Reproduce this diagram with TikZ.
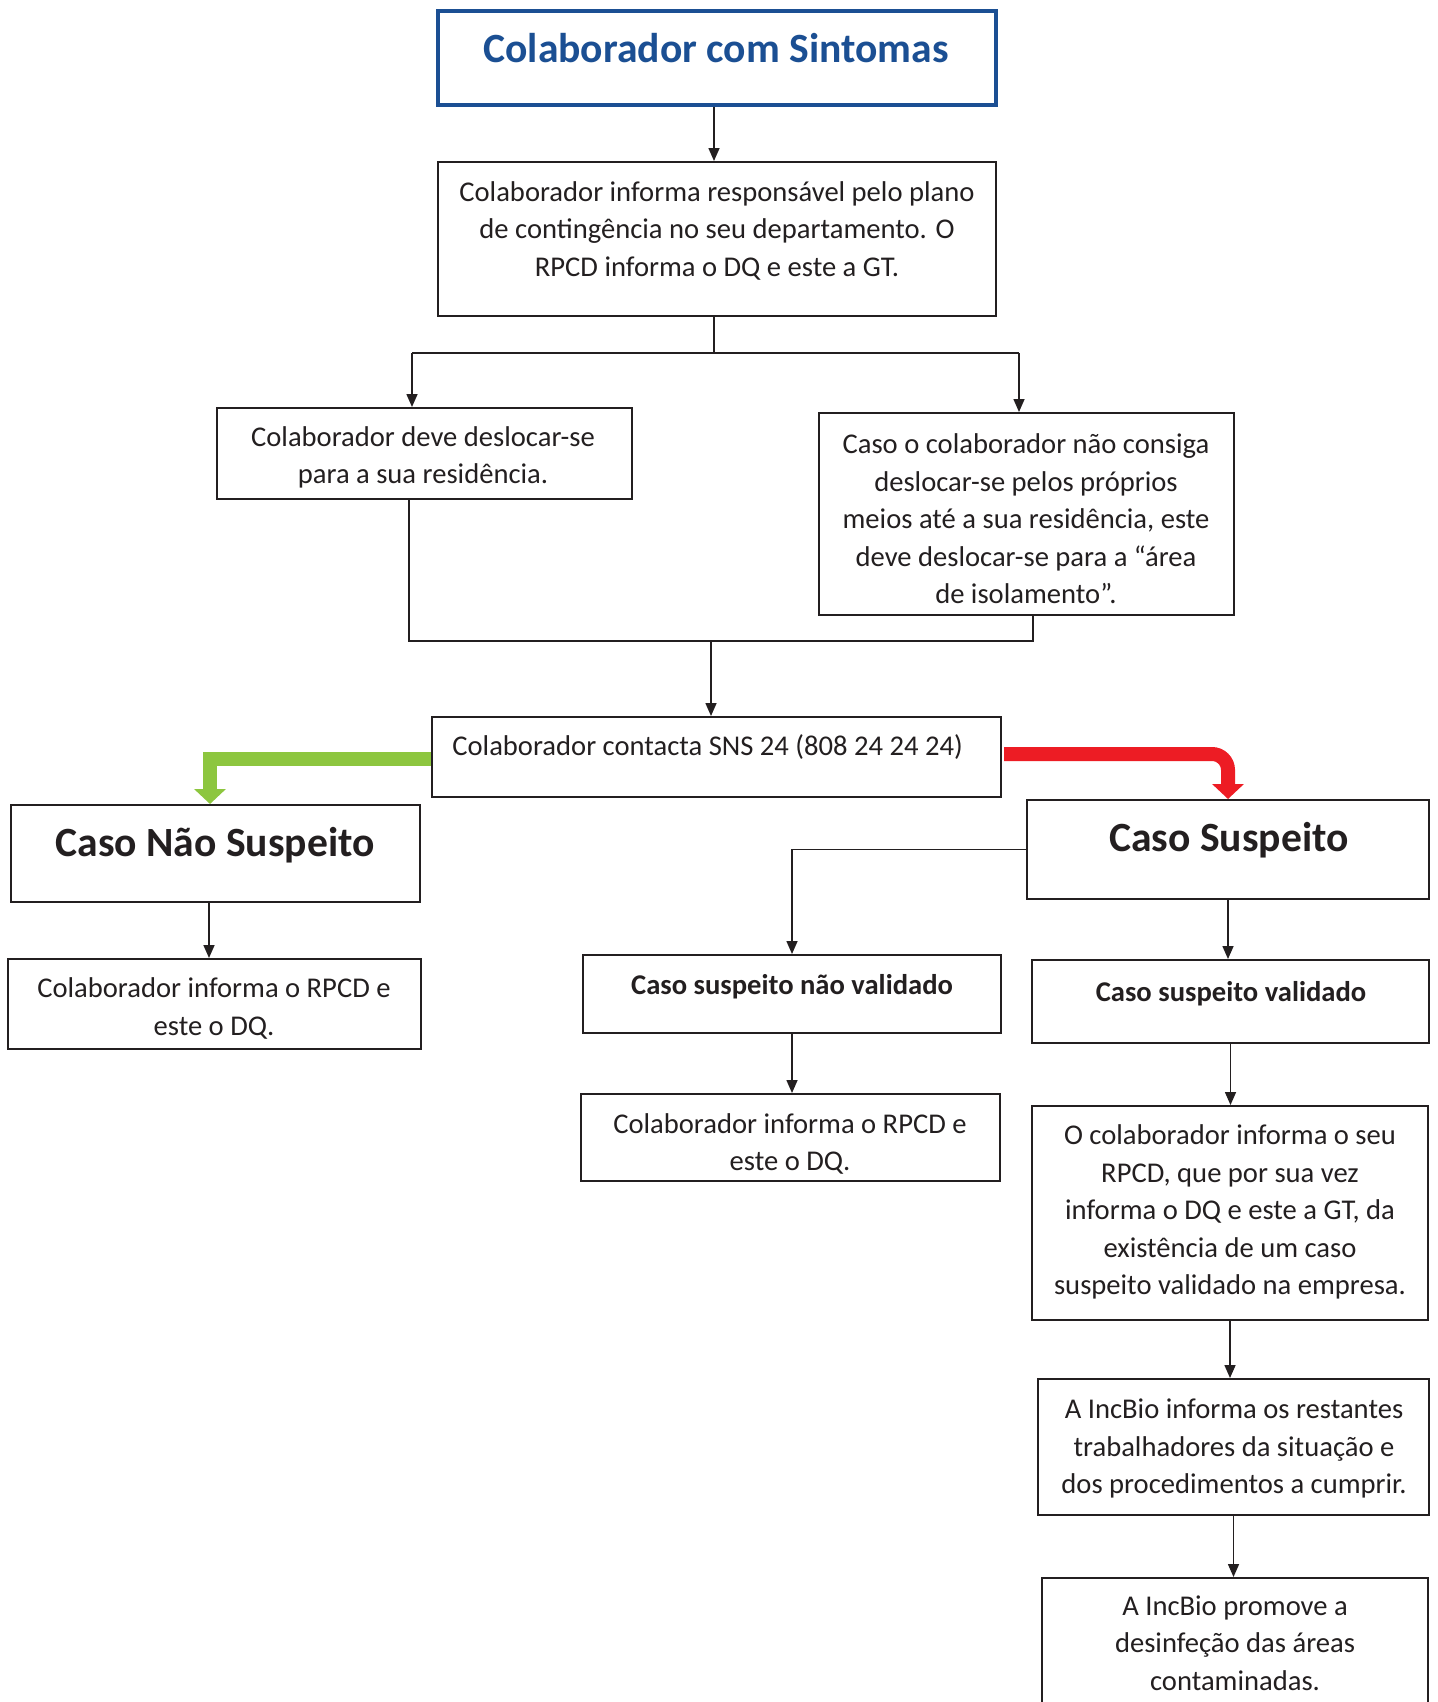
\documentclass[tikz,border=0pt]{standalone}
\usepackage{fontspec}
\setmainfont{Carlito}
\usetikzlibrary{arrows.meta,fit,calc}
\definecolor{ink}{HTML}{231F20}
\definecolor{titleblue}{HTML}{1B4F93}
\definecolor{okgreen}{HTML}{8DC63F}
\definecolor{alertred}{HTML}{ED1C24}

\begin{document}
\begin{tikzpicture}[x=0.5pt,y=-0.5pt,
  box/.style={draw=ink, line width=1pt, inner sep=0pt},
  txt/.style={text=ink, font=\fontsize{14.3pt}{18.75pt}\selectfont, align=center, inner sep=0pt},
  head/.style={text=ink, font=\fontsize{20.8pt}{24pt}\selectfont\bfseries, inner sep=0pt},
  sub/.style={text=ink, font=\fontsize{14.3pt}{18.75pt}\selectfont\bfseries, inner sep=0pt},
  link/.style={draw=ink, line width=0.8pt},
  arr/.style={link, -{Triangle[length=6.5pt,width=5.5pt]}},
  fat/.style={line width=7pt, line join=miter, -{Triangle[length=7.5pt,width=15.5pt]}}
]
\clip (0,0) rectangle (1438,1702);
\fill[white] (0,0) rectangle (1438,1702);

% boxes
\node[box, fit={(438,11) (996,105)}, draw=titleblue, line width=1.75pt] (title) {};
\node[box, fit={(438,162) (996,316)}] (b2) {};
\node[box, fit={(217,408) (632,499)}] (res) {};
\node[box, fit={(819,413) (1234,615)}] (iso) {};
\node[box, fit={(432,717) (1001,797)}] (sns) {};
\node[box, fit={(11,805) (420,902)}] (cns) {};
\node[box, fit={(8,959) (421,1049)}] (cnsInfo) {};
\node[box, fit={(1027,800) (1429,899)}] (cs) {};
\node[box, fit={(583,955) (1001,1033)}] (nv) {};
\node[box, fit={(1032,960) (1429,1043)}] (val) {};
\node[box, fit={(581,1094) (1000,1181)}] (nvInfo) {};
\node[box, fit={(1032,1106) (1428,1320)}] (valInfo) {};
\node[box, fit={(1038,1379) (1429,1515)}] (inc1) {};
\node[box, fit={(1042,1578) (1428,1730)}] (inc2) {};

% texts
\node[head, text=titleblue] (tTitle) at (716,48) {Colaborador com Sintomas};
\node[txt] (tB2) at (717,230.5) {Colaborador informa responsável pelo plano\\de contingência no seu departamento. O\\RPCD informa o DQ e este a GT.};
\node[txt] (tRes) at (423,457.5) {Colaborador deve deslocar-se\\para a sua residência.};
\node[txt] (tIso) at (1026,519) {Caso o colaborador não consiga\\deslocar-se pelos próprios\\meios até a sua residência, este\\deve deslocar-se para a “área\\de isolamento”.};
\node[txt, anchor=west] (tSns) at (452,747.5) {Colaborador contacta SNS 24 (808 24 24 24)};
\node[head] (tCns) at (215,845.5) {Caso Não Suspeito};
\node[txt] (tCnsInfo) at (214,1008.5) {Colaborador informa o RPCD e\\este o DQ.};
\node[head] (tCs) at (1229,840.5) {Caso Suspeito};
\node[sub] (tNv) at (792,986.5) {Caso suspeito não validado};
\node[sub] (tVal) at (1231,993.5) {Caso suspeito validado};
\node[txt] (tNvInfo) at (790,1144) {Colaborador informa o RPCD e\\este o DQ.};
\node[txt] (tValInfo) at (1230,1212) {O colaborador informa o seu\\RPCD, que por sua vez\\informa o DQ e este a GT, da\\existência de um caso\\suspeito validado na empresa.};
\node[txt] (tInc1) at (1234,1448.5) {A IncBio informa os restantes\\trabalhadores da situação e\\dos procedimentos a cumprir.};
\node[txt] (tInc2) at (1235,1643) {A IncBio promove a\\desinfeção das áreas\\contaminadas.};

% junction points
\coordinate (topX) at (714,0);
\coordinate (forkC) at (714,353);
\coordinate (forkL) at (412,353);
\coordinate (forkR) at (1019,353);
\coordinate (joinL) at (409,641);
\coordinate (joinC) at (711,641);
\coordinate (joinR) at (1033,641);
\coordinate (greenX) at (210,0);
\coordinate (greenY) at (0,759);
\coordinate (redY) at (0,754);
\coordinate (leftX) at (209,0);

% connectors
\draw[arr] (title.south -| topX) -- (b2.north -| topX);
\draw[link] (b2.south -| forkC) -- (forkC);
\draw[link] (forkL) -- (forkR);
\draw[arr] (forkL) -- (forkL |- res.north);
\draw[arr] (forkR) -- (forkR |- iso.north);
\draw[link] (joinL |- res.south) -- (joinL) -- (joinR) -- (joinR |- iso.south);
\draw[arr] (joinC) -- (joinC |- sns.north);
\draw[fat, okgreen] (sns.west |- greenY) -| (cns.north -| greenX);
\draw[fat, alertred, rounded corners=8pt] ([xshift=1pt]sns.east |- redY) -| (cs.north);
\draw[arr] (cns.south -| leftX) -- (cnsInfo.north -| leftX);
\draw[arr] (cs.west) -| (nv.north);
\draw[arr] (cs.south) -- (cs.south |- val.north);
\draw[arr] (nv.south) -- (nv.south |- nvInfo.north);
\draw[arr] (val.south) -- (val.south |- valInfo.north);
\draw[arr] (valInfo.south) -- (valInfo.south |- inc1.north);
\draw[arr] (inc1.south) -- (inc1.south |- inc2.north);
\end{tikzpicture}
\end{document}
